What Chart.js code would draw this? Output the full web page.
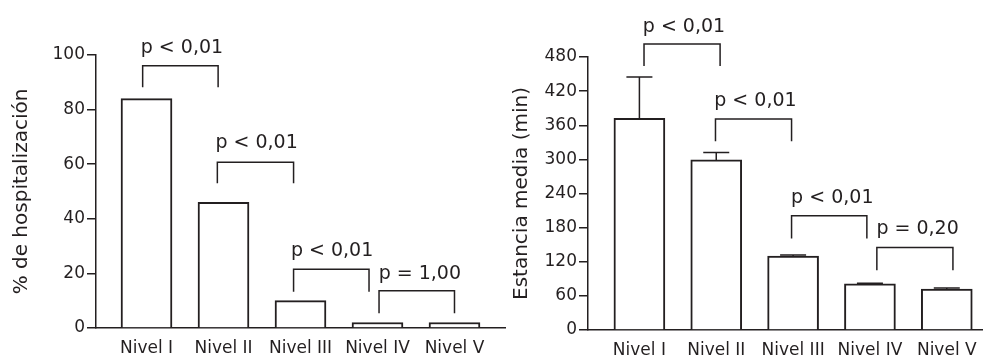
<!DOCTYPE html>
<html>
<head>
<meta charset="utf-8">
<script src="https://cdn.jsdelivr.net/npm/chart.js@4"></script>
<style>
body{margin:0;background:#fff;width:987px;height:356px;position:relative;overflow:hidden}
#c1{position:absolute;left:0;top:0}
#c2{position:absolute;left:490px;top:0}
</style>
</head>
<body>
<canvas id="c1" width="510" height="356"></canvas>
<canvas id="c2" width="497" height="356"></canvas>
<script>
const niveles=['Nivel I','Nivel II','Nivel III','Nivel IV','Nivel V'];
const hospitalizacion=[84,46,10,2,2];
const estancia=[372,299,130,81,72];
const estanciaError=[445,312,132,82,74];
const ticksHosp=[0,20,40,60,80,100];
const ticksEstancia=[0,60,120,180,240,300,360,420,480];
// corchetes: [x desde, x hasta, y arriba, y patas]
const corchetesHosp=[[0.95,1.93,96.1,88.2],[1.92,2.91,60.7,53.0],[2.91,3.89,21.5,13.3],[4.02,5.0,13.6,5.4]];
const textosHosp=[['p < 0,01',1.46,100.8],['p < 0,01',2.43,65.8],['p < 0,01',3.41,26.4],['p = 1,00',4.55,17.8]];
const corchetesEstancia=[[1.06,2.05,503,464],[1.99,2.98,371,332],[2.98,3.96,201,161],[4.09,5.08,145,105]];
const textosEstancia=[['p < 0,01',1.58,524],['p < 0,01',2.51,394],['p < 0,01',3.51,224],['p = 0,20',4.62,168]];

const negro='#231f20';
const fuente='DejaVu Sans';

const anotaciones={
  id:'anotaciones',
  afterDatasetsDraw(chart,args,opts){
    const ctx=chart.ctx, sx=chart.scales.x, sy=chart.scales.y;
    ctx.save();
    ctx.strokeStyle=negro;
    ctx.lineWidth=1.5;
    // barras de error
    (opts.errores||[]).forEach((e,i)=>{
      const px=sx.getPixelForValue(i+1);
      const y0=sy.getPixelForValue(opts.valores[i]);
      const y1=sy.getPixelForValue(e);
      ctx.beginPath();
      ctx.moveTo(px,y0);ctx.lineTo(px,y1);
      ctx.moveTo(px-13,y1);ctx.lineTo(px+13,y1);
      ctx.stroke();
    });
    opts.corchetes.forEach(c=>{
      const x1=sx.getPixelForValue(c[0]), x2=sx.getPixelForValue(c[1]);
      const yt=sy.getPixelForValue(c[2]), yb=sy.getPixelForValue(c[3]);
      ctx.beginPath();
      ctx.moveTo(x1,yb);ctx.lineTo(x1,yt);ctx.lineTo(x2,yt);ctx.lineTo(x2,yb);
      ctx.stroke();
    });
    ctx.fillStyle=negro;
    ctx.font='19px "'+fuente+'"';
    ctx.textAlign='center';
    ctx.textBaseline='alphabetic';
    opts.textos.forEach(t=>{
      ctx.fillText(t[0],sx.getPixelForValue(t[1]),sy.getPixelForValue(t[2]));
    });
    ctx.restore();
  }
};

function creaGrafico(id,valores,ticksY,maxY,titulo,xmin,xmax,padding,altoX,anchoY,tituloPad,extra) {
  const ctx=document.getElementById(id).getContext('2d');
  return new Chart(ctx,{
    type:'bar',
    data:{
      datasets:[{
        data:valores.map((v,i)=>({x:i+1,y:v})),
        backgroundColor:'#fff',
        borderColor:negro,
        borderWidth:2,
        barThickness:51
      }]
    },
    plugins:[anotaciones],
    options:{
      responsive:false,
      animation:false,
      events:[],
      layout:{padding},
      plugins:{
        legend:{display:false},
        tooltip:{enabled:false},
        anotaciones:Object.assign({valores},extra)
      },
      scales:{
        x:{
          type:'linear',min:xmin,max:xmax,offset:false,
          afterBuildTicks:s=>{s.ticks=niveles.map((n,i)=>({value:i+1}))},
          ticks:{callback:(v,i)=>niveles[i],autoSkip:false,maxRotation:0,color:negro,font:{family:fuente,size:17},padding:10},
          grid:{display:false,drawTicks:false},
          border:{display:true,color:negro,width:1.5},
          afterFit:s=>{s.height=altoX}
        },
        y:{
          min:0,max:maxY,
          afterBuildTicks:s=>{s.ticks=ticksY.map(v=>({value:v}))},
          ticks:{color:negro,font:{family:fuente,size:17},padding:2},
          grid:{drawOnChartArea:false,drawTicks:true,tickLength:9,color:negro,lineWidth:1.5},
          border:{display:true,color:negro,width:1.5},
          title:{display:true,text:titulo,color:negro,font:{family:fuente,size:20},padding:{top:tituloPad,bottom:0}},
          afterFit:s=>{s.width=anchoY}
        }
      }
    }
  });
}

creaGrafico('c1',hospitalizacion,ticksHosp,100,'% de hospitalización',0.344,5.656,
  {left:0,top:55,right:5,bottom:0},28,96,10,
  {corchetes:corchetesHosp,textos:textosHosp});
creaGrafico('c2',estancia,ticksEstancia,480,'Estancia media (min)',0.331,5.461,
  {left:0,top:57,right:4,bottom:0},26,98,20,
  {corchetes:corchetesEstancia,textos:textosEstancia,errores:estanciaError});
</script>
</body>
</html>
